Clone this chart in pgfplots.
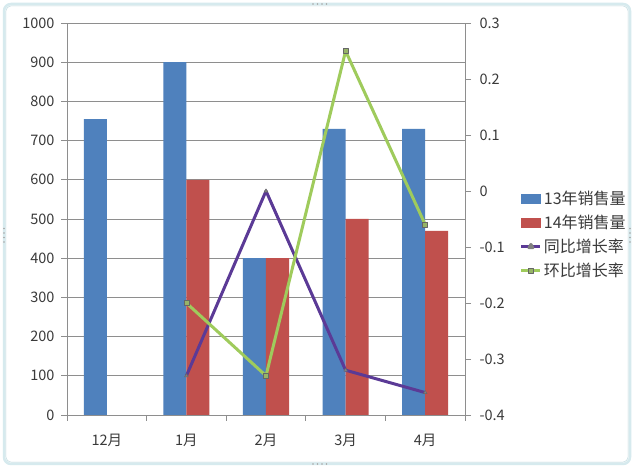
\documentclass[border=0pt]{standalone}
\usepackage{pgfplots}
\pgfplotsset{compat=1.18}
\usepackage{fontspec}
\setmainfont{Noto Sans CJK SC}
\definecolor{bblue}{HTML}{4F81BD}
\definecolor{bred}{HTML}{C0504D}
\definecolor{lpurple}{HTML}{5B3A96}
\definecolor{lgreen}{HTML}{9FCB5C}
\definecolor{gridc}{HTML}{8E8E8E}
\definecolor{txt}{HTML}{3A3A3A}
\definecolor{framec}{HTML}{D6EAEE}
\definecolor{framed}{HTML}{B9D6DC}
\begin{document}
\begin{tikzpicture}[x=1pt,y=1pt]
\fill[white] (0,0) rectangle (640,470);
\draw[framec, line width=2.5pt, rounded corners=7pt] (4,6) rectangle (630,466);
\draw[framed, line width=0.5pt, rounded corners=6pt] (5.8,7.8) rectangle (628.2,464.2);
% handles
\foreach \i in {0,1,2,3} {
  \fill[gray!70] (313+4.5*\i,466) circle (0.9);
  \fill[gray!70] (313+4.5*\i,6) circle (0.9);
  \fill[gray!70] (4,228+4.5*\i) circle (0.9);
  \fill[gray!70] (630,228+4.5*\i) circle (0.9);
}
\begin{axis}[
  at={(67pt,55pt)}, anchor=south west, scale only axis,
  width=398pt, height=392pt,
  xmin=-0.5, xmax=4.5, ymin=0, ymax=1000,
  axis y line*=left, axis x line*=bottom,
  axis line style={gridc, line width=0.8pt},
  ytick={0,100,...,1000},
  ymajorgrids, grid style={gridc, line width=0.8pt},
  tick style={gridc, line width=0.8pt},
  tick align=outside, major tick length=6pt,
  xtick={-0.5,0.5,1.5,2.5,3.5,4.5}, xticklabels={},
  extra x ticks={0,1,2,3,4},
  extra x tick labels={12月,1月,2月,3月,4月},
  extra x tick style={major tick length=0pt, grid=none},
  xticklabel style={yshift=-16pt},
  yticklabel style={xshift=-3pt},
  tick label style={font=\fontsize{14.5}{16}\selectfont, text=txt},
  /pgf/number format/assume math mode=true,
  /pgf/number format/1000 sep={},
  clip=false,
]
\addplot[ybar, bar width=23pt, bar shift=-11.5pt, fill=bblue, draw=none]
  coordinates {(0,755)(1,900)(2,400)(3,730)(4,730)};
\addplot[ybar, bar width=23pt, bar shift=11.5pt, fill=bred, draw=none]
  coordinates {(1,600)(2,400)(3,500)(4,470)};
\end{axis}
\begin{axis}[
  at={(67pt,55pt)}, anchor=south west, scale only axis,
  width=398pt, height=392pt,
  xmin=-0.5, xmax=4.5, ymin=-0.4, ymax=0.3,
  axis x line=none, axis y line*=right,
  axis line style={gridc, line width=0.8pt},
  ytick={-0.4,-0.3,-0.2,-0.1,0,0.1,0.2,0.3},
  yticklabel style={/pgf/number format/fixed, /pgf/number format/precision=1, xshift=5pt},
  tick style={gridc, line width=0.8pt},
  tick align=outside, major tick length=6pt,
  tick label style={font=\fontsize{14.5}{16}\selectfont, text=txt},
  /pgf/number format/assume math mode=true,
  legend style={at={(1.13,0.46)}, anchor=west, draw=none, fill=none,
    font=\fontsize{16}{18}\selectfont, text=txt, row sep=5pt,
    /tikz/every even column/.append style={column sep=1pt}},
  legend cell align=left,
  clip=false,
]
\addlegendimage{legend image code/.code={\fill[bblue] (0pt,-4.5pt) rectangle (19pt,4.5pt);}}
\addlegendentry{13年销售量}
\addlegendimage{legend image code/.code={\fill[bred] (0pt,-4.5pt) rectangle (19pt,4.5pt);}}
\addlegendentry{14年销售量}
\addplot[lpurple, line width=3pt, line join=round, mark=triangle*, mark size=2.2pt,
  mark options={fill=gray, draw=gray!80!black, line width=0.4pt},
  legend image code/.code={\draw[lpurple, line width=3pt] (0pt,0pt) -- (19pt,0pt);
    \fill[gray] (9.5pt,0pt) +(90:2.2pt) -- +(210:2.2pt) -- +(330:2.2pt) -- cycle;}]
  coordinates {(1,-0.33)(2,0)(3,-0.32)(4,-0.36)};
\addlegendentry{同比增长率}
\addplot[lgreen, line width=3pt, line join=round, mark=square*, mark size=2.5pt,
  mark options={fill=lgreen!70!gray, draw=gray!80!black, line width=0.5pt},
  legend image code/.code={\draw[lgreen, line width=3pt] (0pt,0pt) -- (19pt,0pt);
    \filldraw[fill=lgreen!70!gray, draw=gray!80!black, line width=0.5pt] (7pt,-2.5pt) rectangle (12pt,2.5pt);}]
  coordinates {(1,-0.2)(2,-0.33)(3,0.25)(4,-0.06)};
\addlegendentry{环比增长率}
\end{axis}
\end{tikzpicture}
\end{document}
